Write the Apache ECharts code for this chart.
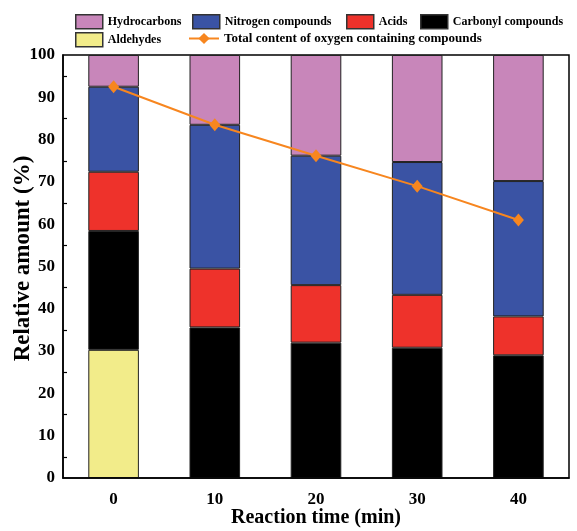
<!DOCTYPE html>
<html>
<head>
<meta charset="utf-8">
<script src="https://cdn.jsdelivr.net/npm/echarts@6/dist/echarts.min.js"></script>
<style>
  html, body { margin: 0; padding: 0; background: #fff; }
  #chart { width: 577px; height: 531px; }
</style>
</head>
<body>
<div id="chart"></div>
<script>
// reaction time categories (min)
const categories = ['0', '10', '20', '30', '40'];

// stacked segments, bottom to top (%)
const aldehydes = [30.3, 0, 0, 0, 0];
const carbonyl = [28.1, 35.6, 32.0, 30.8, 29.0];
const acids = [14.0, 13.9, 13.6, 12.5, 9.2];
const nitrogen = [20.1, 34.0, 30.6, 31.4, 32.0];
const hydrocarbons = [7.5, 16.5, 23.8, 25.3, 29.8];

// total oxygen containing compounds (%)
const oxygenTotal = [92.5, 83.5, 76.2, 69.0, 61.0];

const font = 'Liberation Serif';
const chart = echarts.init(document.getElementById('chart'));

function barSeries(name, data, color) {
  return {
    name: name,
    type: 'bar',
    stack: 'total',
    barWidth: '50%',
    data: data,
    itemStyle: { color: color, borderColor: '#222', borderWidth: 1 },
  };
}

function legendAt(name, left, top, opts) {
  opts = opts || {};
  const lg = {
    data: [{ name: name, icon: opts.icon }],
    left: left,
    top: top,
    padding: 0,
    itemWidth: opts.w || 27,
    itemHeight: 14,
    itemGap: 0,
    textStyle: { fontFamily: font, fontWeight: 'bold', fontSize: opts.size || 12, color: '#000' },
  };
  if (opts.icon === 'rect') {
    lg.itemStyle = { borderColor: '#333', borderWidth: 1.5 };
  }
  return lg;
}

const option = {
  animation: false,
  backgroundColor: '#fff',
  legend: [
    legendAt('Hydrocarbons', 75, 14, { icon: 'rect' }),
    legendAt('Nitrogen compounds', 192, 14, { icon: 'rect' }),
    legendAt('Acids', 346, 14, { icon: 'rect' }),
    legendAt('Carbonyl compounds', 420, 14, { icon: 'rect' }),
    legendAt('Aldehydes', 75, 32, { icon: 'rect' }),
    legendAt('Total content of oxygen containing compounds', 188, 32, { w: 30, size: 13 }),
  ],
  grid: {
    left: 63,
    right: 8,
    top: 55,
    bottom: 53,
    outerBoundsMode: 'none',
    containLabel: false,
    show: true,
    borderColor: '#000',
    borderWidth: 1.5,
    backgroundColor: 'transparent',
  },
  xAxis: [
    {
      type: 'category',
      data: categories,
      z: 10,
      name: 'Reaction time (min)',
      nameLocation: 'middle',
      nameGap: 30,
      nameMoveOverlap: false,
      nameTextStyle: { fontFamily: font, fontWeight: 'bold', fontSize: 20, color: '#000', verticalAlign: 'top' },
      axisLine: { lineStyle: { color: '#000', width: 1.5 } },
      axisTick: { inside: true, alignWithLabel: true, length: 9, lineStyle: { color: '#000', width: 1.5 } },
      axisLabel: { margin: 13, fontFamily: font, fontWeight: 'bold', fontSize: 17, color: '#000' },
    },
    {
      type: 'category',
      data: categories,
      position: 'bottom',
      z: 10,
      axisLine: { show: false },
      axisTick: { inside: true, length: 5, lineStyle: { color: '#000', width: 1.2 } },
      axisLabel: { show: false },
    },
  ],
  yAxis: {
    type: 'value',
    min: 0,
    max: 100,
    interval: 10,
    z: 10,
    name: 'Relative amount (%)',
    nameLocation: 'middle',
    nameGap: 28,
    nameMoveOverlap: false,
    nameTextStyle: { fontFamily: font, fontWeight: 'bold', fontSize: 23, color: '#000', padding: [0, 0, 0, 16] },
    splitLine: { show: false },
    axisLine: { show: true, lineStyle: { color: '#000', width: 1.5 } },
    axisTick: { inside: true, length: 7, lineStyle: { color: '#000', width: 1.5 } },
    minorTick: { show: true, splitNumber: 2, length: 4, lineStyle: { color: '#000', width: 1.2 } },
    axisLabel: { margin: 8, fontFamily: font, fontWeight: 'bold', fontSize: 17, color: '#000' },
  },
  series: [
    barSeries('Aldehydes', aldehydes, '#F2EC8A'),
    barSeries('Carbonyl compounds', carbonyl, '#000000'),
    barSeries('Acids', acids, '#EE322B'),
    barSeries('Nitrogen compounds', nitrogen, '#3A53A4'),
    barSeries('Hydrocarbons', hydrocarbons, '#C886BA'),
    {
      name: 'Total content of oxygen containing compounds',
      type: 'line',
      z: 5,
      data: oxygenTotal,
      symbol: 'diamond',
      symbolSize: [11, 13],
      lineStyle: { color: '#F7861F', width: 2 },
      itemStyle: { color: '#F7861F' },
    },
  ],
};

chart.setOption(option);
</script>
</body>
</html>
